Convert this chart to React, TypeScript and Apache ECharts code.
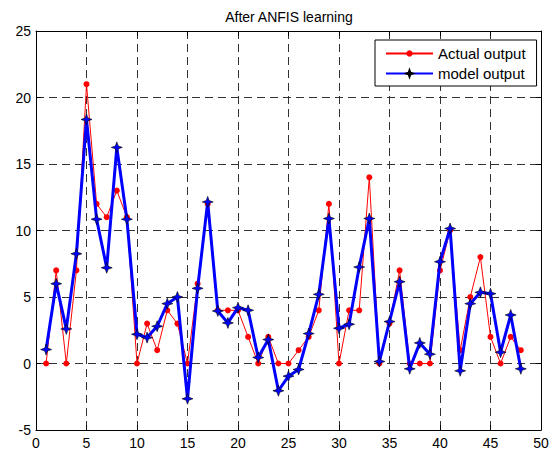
import React, { useEffect, useRef } from "react";
import * as echarts from "echarts";

const xValues = [1,2,3,4,5,6,7,8,9,10,11,12,13,14,15,16,17,18,19,20,21,22,23,24,25,26,27,28,29,30,31,32,33,34,35,36,37,38,39,40,41,42,43,44,45,46,47,48];
const actualOutput = [0,7,0,7,21,12,11,13,11,0,3,1,4,3,0,6,12,4,4,4,2,0,2,0,0,1,2,4,12,0,4,4,14,0,3,7,0,0,0,7,10,1,5,8,2,0,2,1];
const modelOutput = [1.05,6.0,2.6,8.25,18.35,10.85,7.2,16.25,10.85,2.2,1.95,2.8,4.5,5.0,-2.65,5.65,12.15,3.95,3.05,4.2,4.0,0.45,1.8,-2.05,-0.95,-0.45,2.25,5.2,10.9,2.65,2.95,7.25,10.9,0.15,3.15,6.15,-0.4,1.55,0.7,7.65,10.15,-0.55,4.5,5.35,5.25,0.85,3.65,-0.4];
const xTicks = { min: 0, max: 50, interval: 5 };
const yTicks = { min: -5, max: 25, interval: 5 };
const titleText = "After ANFIS learning";
const seriesNames = ["Actual output", "model output"];

const FONT = "'Liberation Sans', Arial, sans-serif";
const STAR = "path://M0,-10 L2.6,-2.6 L10,0 L2.6,2.6 L0,10 L-2.6,2.6 L-10,0 L-2.6,-2.6 Z";

export default function App() {
  const ref = useRef<HTMLDivElement>(null);
  useEffect(() => {
    if (!ref.current) return;
    const chart = echarts.init(ref.current, undefined, { renderer: "svg" });
    const axisCommon = {
      type: "value" as const,
      axisLine: { show: true, onZero: false, lineStyle: { color: "#000", width: 1 } },
      axisTick: { show: true, inside: true, length: 5, lineStyle: { color: "#000" } },
    };
    const splitLine = {
      show: true,
      lineStyle: { color: "#333", type: [8, 5], width: 1 },
    };
    chart.setOption({
      animation: false,
      backgroundColor: "#fff",
      title: {
        text: titleText,
        left: 284,
        textAlign: "center",
        top: 5,
        textStyle: { fontFamily: FONT, fontSize: 14, fontWeight: "normal", color: "#000" },
      },
      grid: { left: 36, right: 15, top: 31, bottom: 21, containLabel: false },
      legend: {
        orient: "vertical",
        left: 375,
        top: 40,
        padding: [6, 11, 5, 10],
        itemGap: 5,
        itemWidth: 47,
        itemHeight: 8,
        borderColor: "#000",
        borderWidth: 1,
        backgroundColor: "#fff",
        textStyle: { fontFamily: FONT, fontSize: 15, color: "#000" },
        data: seriesNames,
      },
      xAxis: [
        {
          ...axisCommon,
          position: "bottom",
          min: xTicks.min,
          max: xTicks.max,
          interval: xTicks.interval,
          axisLabel: { show: true, margin: 6, color: "#000", fontFamily: FONT, fontSize: 14 },
          splitLine,
        },
        {
          ...axisCommon,
          position: "top",
          min: xTicks.min,
          max: xTicks.max,
          interval: xTicks.interval,
          axisLabel: { show: false },
          splitLine: { show: false },
        },
      ],
      yAxis: [
        {
          ...axisCommon,
          position: "left",
          min: yTicks.min,
          max: yTicks.max,
          interval: yTicks.interval,
          axisLabel: { show: true, margin: 5, color: "#000", fontFamily: FONT, fontSize: 14 },
          splitLine,
        },
        {
          ...axisCommon,
          position: "right",
          min: yTicks.min,
          max: yTicks.max,
          interval: yTicks.interval,
          axisLabel: { show: false },
          splitLine: { show: false },
        },
      ],
      series: [
        {
          name: seriesNames[0],
          type: "line",
          data: xValues.map((x, i) => [x, actualOutput[i]]),
          symbol: "circle",
          symbolSize: 6,
          showSymbol: true,
          lineStyle: { color: "#ff0000", width: 1 },
          itemStyle: { color: "#ff0000" },
          z: 3,
        },
        {
          name: seriesNames[1],
          type: "line",
          data: xValues.map((x, i) => [x, modelOutput[i]]),
          symbol: STAR,
          symbolSize: 11,
          showSymbol: true,
          lineStyle: { color: "#0000ff", width: 3 },
          itemStyle: { color: "#0000ff", borderColor: "#000", borderWidth: 0.6 },
          z: 4,
        },
      ],
    });
    return () => chart.dispose();
  }, []);
  return <div ref={ref} style={{ width: 556, height: 451, position: "absolute", left: 0, top: 0 }} />;
}
